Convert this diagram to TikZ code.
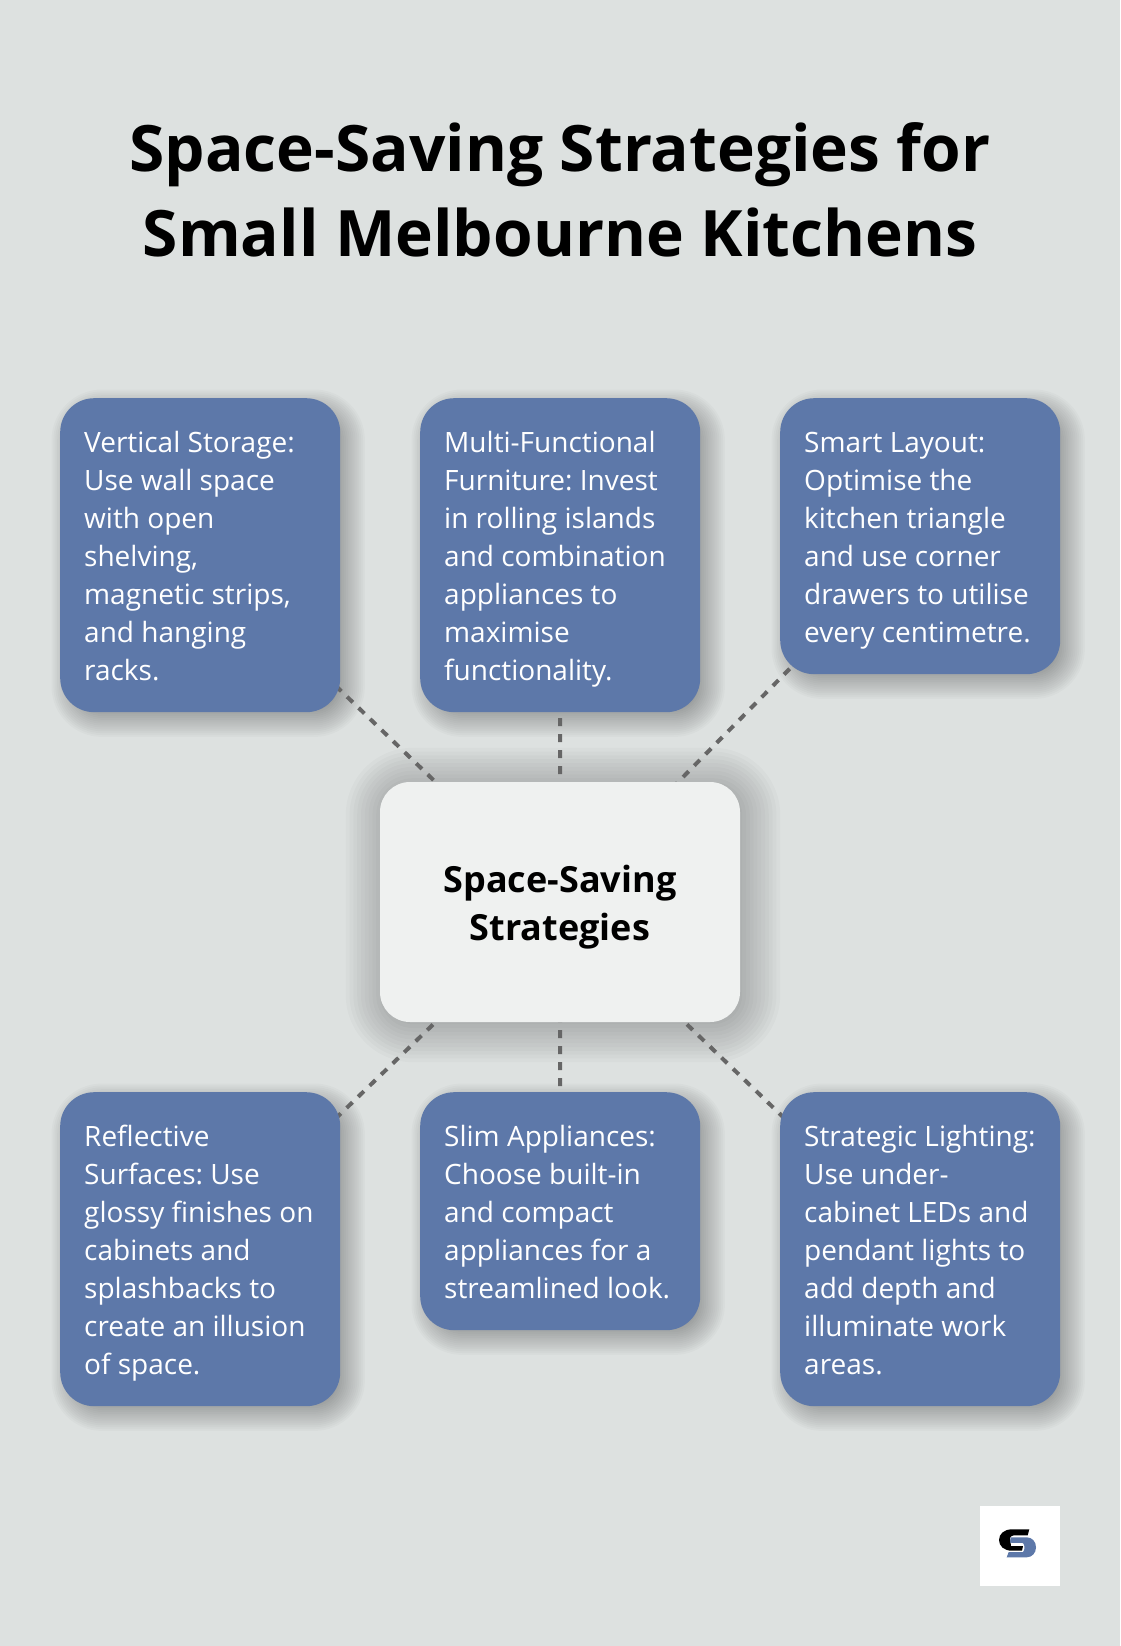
\documentclass[tikz,border=0pt]{standalone}
\usepackage{fontspec}
\setmainfont{Open Sans}
\usetikzlibrary{calc}
\pgfdeclarelayer{back}
\pgfsetlayers{back,main}
\definecolor{bgc}{HTML}{DDE1E0}
\definecolor{bluec}{HTML}{5D78A9}
\definecolor{centerc}{HTML}{EFF1F0}
\definecolor{linec}{HTML}{666666}
% #1 node, #2 radius, #3 offset, #4 first spread, #5 spread step
\newcommand{\softshadow}[5]{%
  \foreach \i in {0,1,...,15}{%
    \pgfmathsetmacro{\ss}{#4+\i*#5}
    \pgfmathsetmacro{\rr}{max(2,#2+\ss)}
    \fill[black,fill opacity=0.019,rounded corners=\rr pt]
      ($(#1.north west)+(#3-\ss,#3-\ss)$) rectangle ($(#1.south east)+(#3+\ss,#3+\ss)$);
  }%
}
\tikzset{
  x=1pt,y=-1pt,
  card/.style={fill=bluec,text=white,rounded corners=34pt,inner ysep=0pt,inner xsep=24pt,anchor=north west,font=\fontsize{28}{38}\selectfont},
  hub/.style={fill=centerc,text=black,rounded corners=30pt,inner sep=0pt,minimum width=360pt,minimum height=240pt,font=\fontsize{36}{48}\bfseries\selectfont},
  titletext/.style={inner sep=0pt,align=center,text=black,font=\fontsize{64}{85}\bfseries\selectfont},
  link/.style={draw=linec,line width=4pt,dash pattern=on 8pt off 8pt},
}
\newcommand{\cardbody}[2]{\parbox[c][#1][t]{232pt}{\frenchspacing\raggedright\rule{0pt}{54pt}#2}}
\begin{document}
\begin{tikzpicture}
\useasboundingbox (0,0) rectangle (1120,1646);
\node[titletext] (title) at (560,189.5) {Space-Saving Strategies for\\Small Melbourne Kitchens};

\node[card] (n1) at (60,398) {\cardbody{314pt}{Vertical Storage:\\Use wall space\\with open\\shelving,\\magnetic strips,\\and hanging\\racks.}};
\node[card] (n2) at (420,398) {\cardbody{314pt}{Multi-Functional\\Furniture: Invest\\in rolling islands\\and combination\\appliances to\\maximise\\functionality.}};
\node[card] (n3) at (780,398) {\cardbody{276pt}{Smart Layout:\\Optimise the\\kitchen triangle\\and use corner\\drawers to utilise\\every centimetre.}};
\node[card] (n4) at (60,1092) {\cardbody{314pt}{Reflective\\Surfaces: Use\\glossy finishes on\\cabinets and\\splashbacks to\\create an illusion\\of space.}};
\node[card] (n5) at (420,1092) {\cardbody{238pt}{Slim Appliances:\\Choose built-in\\and compact\\appliances for a\\streamlined look.}};
\node[card] (n6) at (780,1092) {\cardbody{314pt}{Strategic Lighting:\\Use under-\\cabinet LEDs and\\pendant lights to\\add depth and\\illuminate work\\areas.}};
\node[hub] (hub) at (560,902) {\parbox[c][240pt][t]{340pt}{\centering\rule{0pt}{110pt}Space-Saving\\Strategies}};

\begin{pgfonlayer}{back}
\fill[bgc] (0,0) rectangle (1120,1646);
\softshadow{n1}{34}{8}{-12}{1.9}
\softshadow{n2}{34}{8}{-12}{1.9}
\softshadow{n3}{34}{8}{-12}{1.9}
\softshadow{n4}{34}{8}{-12}{1.9}
\softshadow{n5}{34}{8}{-12}{1.9}
\softshadow{n6}{34}{8}{-12}{1.9}
\softshadow{hub}{30}{3}{-20}{3.8}
\draw[link,dash phase=4pt] (n1.center) -- (hub.center);
\draw[link,dash phase=13pt] (n2.center) -- (hub.center);
\draw[link,dash phase=6pt] (n3.center) -- (hub.center);
\draw[link,dash phase=4.5pt] (n4.center) -- (hub.center);
\draw[link,dash phase=3pt] (n5.center) -- (hub.center);
\draw[link,dash phase=4pt] (n6.center) -- (hub.center);
\end{pgfonlayer}

\node[fill=white,minimum size=80pt,inner sep=0pt] (logo) at (1020,1546) {};
\fill[black] (1029.3,1529.3) -- (1012,1529.3) .. controls (1004,1529.3) and (999,1534) .. (999,1540) .. controls (999,1546) and (1004,1550.7) .. (1012,1550.7) -- (1022,1550.7) -- (1023,1546) -- (1011,1546) -- (1010,1538) .. controls (1010.5,1536.5) and (1012,1535.3) .. (1014,1535.3) -- (1027.7,1535.3) -- cycle;
\fill[bluec] (1010.7,1537.3) -- (1026.7,1537.3) .. controls (1032,1537.3) and (1036,1541.5) .. (1036,1547.3) .. controls (1036,1553) and (1032,1557.3) .. (1026.7,1557.3) -- (1006.7,1557.3) -- (1008.7,1552) -- (1023,1552) .. controls (1025,1550) and (1025,1545) .. (1023,1543) -- (1010,1542.7) -- cycle;
\end{tikzpicture}
\end{document}
